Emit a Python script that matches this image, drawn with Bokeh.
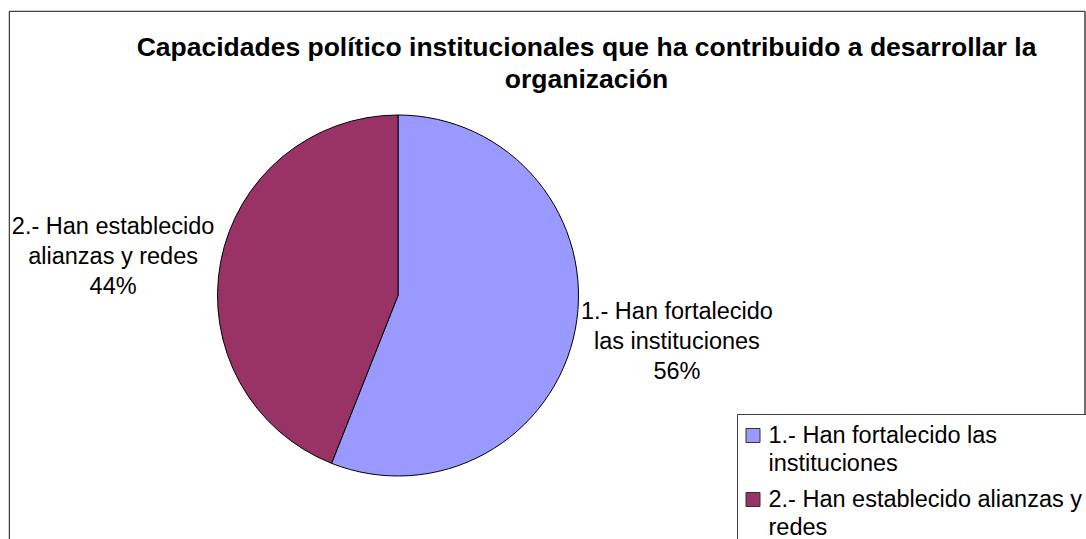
import math
import textwrap
from bokeh.plotting import figure
from bokeh.models import Range1d
from bokeh.core.properties import value
from bokeh.embed import file_html
from bokeh.resources import INLINE

# ---- data ----
categories = ["1.- Han fortalecido las instituciones",
              "2.- Han establecido alianzas y redes"]
values = [56, 44]
colors = ["#9999FF", "#993366"]
title_lines = ["Capacidades político institucionales que ha contribuido a desarrollar la",
               "organización"]

# ---- layout (pixel based) ----
W, H = 1086, 539
FW, FH = 1078, 529
FONT = value("Liberation Sans")


def X(px):
    return px - 8


def Y(py):
    return 539 - py


p = figure(width=W, height=H, output_backend="svg", toolbar_location=None,
           x_range=Range1d(0, FW), y_range=Range1d(0, FH),
           x_axis_location=None, y_axis_location=None,
           min_border_left=8, min_border_right=0,
           min_border_top=10, min_border_bottom=0)
p.grid.visible = False
p.outline_line_color = None
p.background_fill_color = "white"
p.border_fill_color = "white"

# chart border (continues below the visible area)
p.segment(x0=[0.75, 0.75, FW - 1.5], y0=[-20, FH - 0.75, FH - 0.75],
          x1=[0.75, FW - 1.5, FW - 1.5], y1=[FH - 0.75, FH - 0.75, -20],
          line_color="#404040", line_width=1.5)

# title
for i, t in enumerate(title_lines):
    p.text(x=[X(586)], y=[Y(46 + i * 32)], text=[t], text_font=FONT,
           text_font_size="26.5px", text_font_style="bold",
           text_align="center", text_baseline="middle", text_color="black")

# pie
cx, cy, r = X(397.5), Y(295), 180.5
total = float(sum(values))
cum = 0.0
for i, v in enumerate(values):
    a0 = math.pi / 2 - 2 * math.pi * cum / total
    a1 = math.pi / 2 - 2 * math.pi * (cum + v) / total
    mid = (a0 + a1) / 2
    p.wedge(x=[cx], y=[cy], radius=r, start_angle=a0, end_angle=a1,
            direction="clock", fill_color=colors[i], line_color="black",
            line_width=1)
    cum += v
    # data label
    lx = cx + 1.59 * r * math.cos(mid) - 3
    ly = cy + 1.25 * r * math.sin(mid) - 3
    lines = textwrap.wrap(categories[i], 19) + ["%d%%" % round(100 * v / total)]
    n = len(lines)
    for j, t in enumerate(lines):
        p.text(x=[lx], y=[ly + (n - 1) / 2 * 30 - j * 30], text=[t],
               text_font=FONT, text_font_size="23.5px", text_align="center",
               text_baseline="middle", text_color="black")

# legend box
p.quad(left=[X(737)], right=[X(1200)], top=[Y(414)], bottom=[Y(700)],
       fill_color="white", line_color="#404040", line_width=1)
ly = Y(434)
for i, c in enumerate(categories):
    p.rect(x=[X(752.5)], y=[ly - 1], width=14, height=14,
           fill_color=colors[i], line_color="#333333", line_width=1)
    for j, t in enumerate(textwrap.wrap(c, 30)):
        p.text(x=[X(768)], y=[ly - j * 28.5], text=[t], text_font=FONT,
               text_font_size="23.5px", text_align="left",
               text_baseline="middle", text_color="black")
    ly -= 64

open("out.html", "w").write(file_html(p, INLINE))
